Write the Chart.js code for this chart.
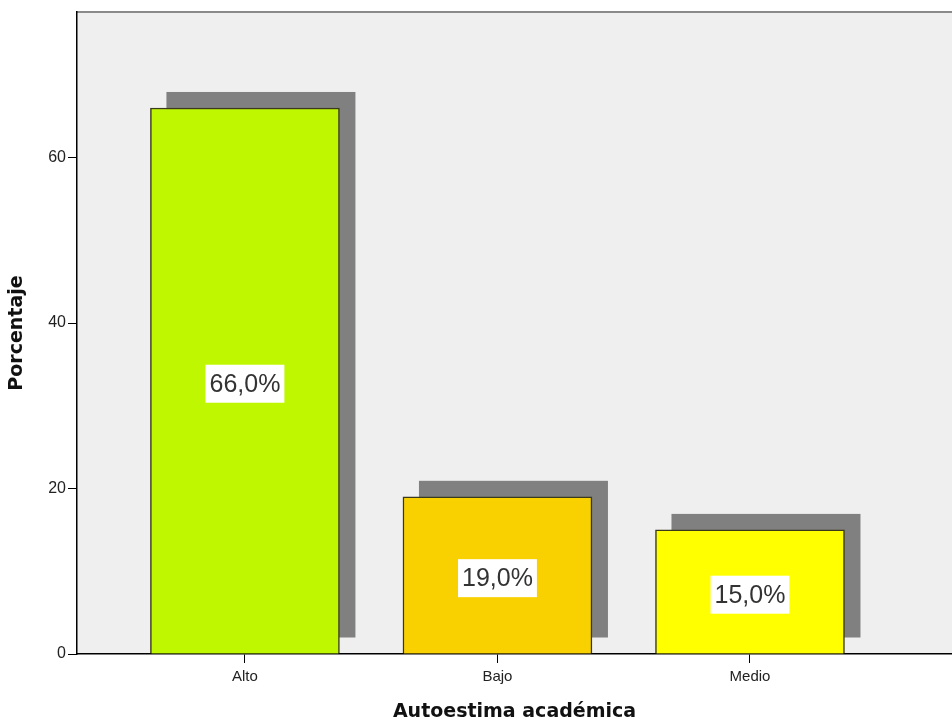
<!DOCTYPE html>
<html>
<head>
<meta charset="utf-8">
<script src="https://cdn.jsdelivr.net/npm/chart.js@4"></script>
<style>
  html, body { margin: 0; padding: 0; background: #ffffff; }
  #wrap { width: 952px; height: 724px; }
</style>
</head>
<body>
<div id="wrap"><canvas id="chart" width="952" height="724"></canvas></div>
<script>
const categories = ['Alto', 'Bajo', 'Medio'];
const percentages = [66.0, 19.0, 15.0];
const barColors = ['#bff700', '#f9d100', '#ffff00'];
const yTicks = [0, 20, 40, 60];

const FONT = "'Liberation Sans', Arial, sans-serif";
const TITLE_FONT = "'DejaVu Sans', Verdana, sans-serif";

// fondo gris del área y línea superior
const plotBackground = {
    id: 'plotBackground',
    beforeDraw(chart) {
        const { ctx, chartArea: a } = chart;
        ctx.save();
        ctx.fillStyle = '#efefef';
        ctx.fillRect(a.left, a.top, a.right - a.left, a.bottom - a.top);
        ctx.strokeStyle = '#8a8a8a';
        ctx.lineWidth = 2;
        ctx.beginPath();
        ctx.moveTo(a.left, a.top);
        ctx.lineTo(a.right, a.top);
        ctx.stroke();
        ctx.restore();
    }
};

// sombra gris desplazada detrás de cada barra
const barShadow = {
    id: 'barShadow',
    beforeDatasetsDraw(chart) {
        const { ctx } = chart;
        const off = 16;
        ctx.save();
        ctx.fillStyle = '#808080';
        chart.getDatasetMeta(0).data.forEach(bar => {
            const p = bar.getProps(['x', 'y', 'base', 'width'], true);
            ctx.fillRect(p.x - p.width / 2 + off, p.y - off, p.width, p.base - p.y);
        });
        ctx.restore();
    }
};

// etiquetas de porcentaje en caja blanca
const valueLabels = {
    id: 'valueLabels',
    afterDatasetsDraw(chart) {
        const { ctx } = chart;
        ctx.save();
        ctx.font = '25px ' + FONT;
        ctx.textAlign = 'center';
        ctx.textBaseline = 'middle';
        chart.getDatasetMeta(0).data.forEach((bar, i) => {
            const p = bar.getProps(['x', 'y', 'base'], true);
            const text = percentages[i].toFixed(1).replace('.', ',') + '%';
            const cy = (p.y + p.base) / 2 + 3;
            const w = ctx.measureText(text).width + 8;
            const h = 38;
            ctx.fillStyle = '#ffffff';
            ctx.fillRect(p.x - w / 2, cy - h / 2, w, h);
            ctx.fillStyle = '#333333';
            ctx.fillText(text, p.x, cy + 1);
        });
        ctx.restore();
    }
};

const ctx = document.getElementById('chart').getContext('2d');
const chart = new Chart(ctx, {
    type: 'bar',
    data: {
        datasets: [{
            label: 'Porcentaje',
            data: percentages.map((v, i) => ({ x: i, y: v })),
            backgroundColor: barColors,
            borderColor: '#3a3a1a',
            borderWidth: 1.5,
            barThickness: 189
        }]
    },
    plugins: [plotBackground, barShadow, valueLabels],
    options: {
        responsive: false,
        animation: false,
        layout: { padding: { top: 12, right: 0, left: 0, bottom: 0 } },
        plugins: {
            legend: { display: false },
            tooltip: { enabled: false }
        },
        scales: {
            x: {
                type: 'linear',
                offset: false,
                min: -0.665,
                max: 2.8,
                afterBuildTicks: scale => { scale.ticks = categories.map((c, i) => ({ value: i })); },
                afterFit: scale => { scale.height = 70; },
                ticks: {
                    autoSkip: false,
                    maxRotation: 0,
                    padding: 5,
                    color: '#222222',
                    font: { family: FONT, size: 15 },
                    callback: v => categories[v]
                },
                grid: {
                    offset: false,
                    drawOnChartArea: false,
                    drawTicks: true,
                    tickLength: 9,
                    color: '#000000'
                },
                border: { display: true, color: '#000000', width: 1.5 },
                title: {
                    display: true,
                    text: 'Autoestima académica',
                    color: '#111111',
                    font: { family: TITLE_FONT, size: 19, weight: 'bold' },
                    padding: { top: 4, bottom: 1 }
                }
            },
            y: {
                min: 0,
                max: 77.6,
                afterBuildTicks: scale => { scale.ticks = yTicks.map(v => ({ value: v })); },
                afterFit: scale => { scale.width = 77; },
                ticks: {
                    padding: 2,
                    color: '#222222',
                    font: { family: FONT, size: 16 }
                },
                grid: {
                    drawOnChartArea: false,
                    drawTicks: true,
                    tickLength: 9,
                    color: '#000000'
                },
                border: { display: true, color: '#000000', width: 1.5 },
                title: {
                    display: true,
                    text: 'Porcentaje',
                    color: '#111111',
                    font: { family: TITLE_FONT, size: 19, weight: 'bold' },
                    padding: { top: 6, bottom: 4 }
                }
            }
        }
    }
});
</script>
</body>
</html>
